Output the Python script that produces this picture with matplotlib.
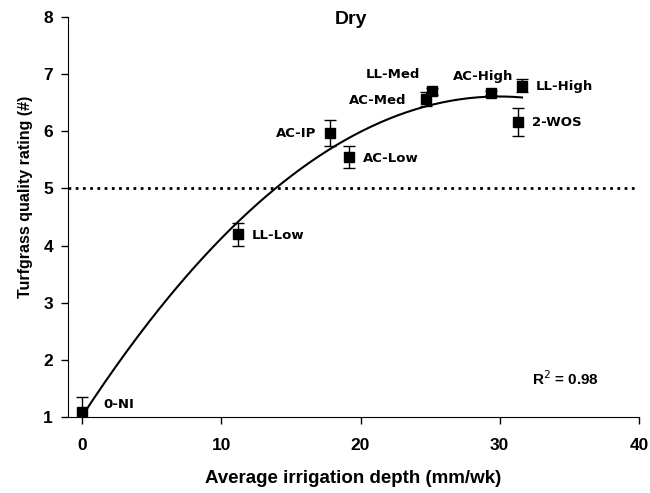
import numpy as np
import matplotlib
matplotlib.use("Agg")
import matplotlib.pyplot as plt

# irrigation treatments
names = ["0-NI", "LL-Low", "AC-IP", "AC-Low", "AC-Med", "LL-Med", "AC-High", "LL-High", "2-WOS"]
depth = [0.0, 11.2, 17.8, 19.2, 24.7, 25.1, 29.4, 31.6, 31.3]
quality = [1.09, 4.2, 5.97, 5.55, 6.57, 6.70, 6.67, 6.80, 6.16]
err = [0.27, 0.2, 0.22, 0.2, 0.12, 0.06, 0.04, 0.11, 0.24]

# label offsets (points) and alignment
lab_off = [(15, 5), (10, -1), (-10, 0), (10, -1), (-14, -1), (-8, 12), (-6, 12), (10, -1), (10, 0)]
lab_ha = ["left", "left", "right", "left", "right", "right", "center", "left", "left"]

fig = plt.figure(figsize=(6.5, 4.93), dpi=100)
ax = fig.add_axes([0.105, 0.154, 0.878, 0.8115])

ax.axhline(5, color="black", linestyle=":", linewidth=2, dashes=(1, 1.6))

coef = np.polyfit(depth, quality, 2)
xx = np.linspace(0, max(depth), 200)
ax.plot(xx, np.polyval(coef, xx), color="black", linewidth=1.5)

ax.errorbar(depth, quality, yerr=err, fmt="s", color="black", ecolor="black",
            markersize=7, capsize=4, elinewidth=1, capthick=1)

for n, x, y, off, ha in zip(names, depth, quality, lab_off, lab_ha):
    ax.annotate(n, (x, y), xytext=off, textcoords="offset points", ha=ha, va="center",
                fontsize=9.5, fontweight="bold", family="DejaVu Sans")

ax.text(34.7, 1.68, "R$^{2}$ = 0.98", fontsize=11, fontweight="bold", family="Liberation Sans",
        ha="center", va="center")

ax.set_xlim(-1, 40)
ax.set_ylim(1, 8)
ax.set_xticks([0, 10, 20, 30, 40])
ax.set_yticks(range(1, 9))
ax.spines["top"].set_visible(False)
ax.spines["right"].set_visible(False)
ax.tick_params(direction="out", length=5, width=1)
for lab in ax.get_xticklabels() + ax.get_yticklabels():
    lab.set_fontfamily("Liberation Sans")
    lab.set_fontweight("bold")
    lab.set_fontsize(12.5)
ax.tick_params(axis="x", pad=10)
ax.tick_params(axis="y", pad=6)

ax.set_xlabel("Average irrigation depth (mm/wk)", fontsize=13.5, fontweight="bold",
              family="Liberation Sans", labelpad=12)
ax.set_ylabel("Turfgrass quality rating (#)", fontsize=11.5, fontweight="bold",
              family="Liberation Sans")
ax.yaxis.set_label_coords(-0.062, 0.55)
ax.text(0.496, 0.995, "Dry", transform=ax.transAxes, fontsize=14, fontweight="bold",
        family="Liberation Sans", ha="center", va="center")

fig.savefig("out.png", dpi=100)
